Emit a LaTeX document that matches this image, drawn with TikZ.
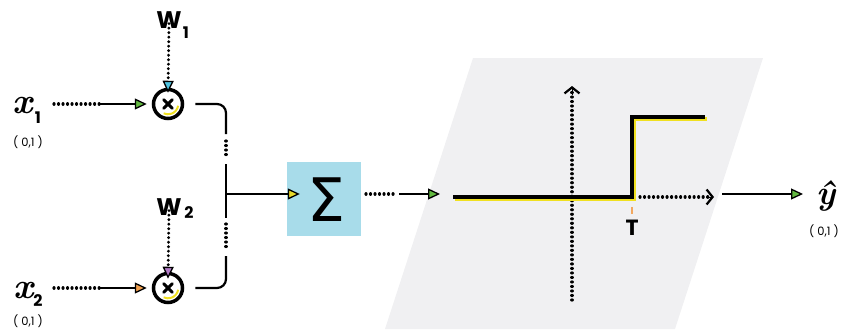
\documentclass[tikz,border=0pt]{standalone}
\usepackage{fontspec}
\newfontfamily\pop{Poppins}
\newfontfamily\djv{DejaVu Sans}
\newfontfamily\lmr{Latin Modern Roman}
\usetikzlibrary{arrows.meta}
\definecolor{sumblue}{HTML}{A8DCEA}
\definecolor{panel}{HTML}{F0F0F2}
\definecolor{tipgreen}{HTML}{62B940}
\definecolor{tipcyan}{HTML}{4FC3E0}
\definecolor{tippurple}{HTML}{B27BC6}
\definecolor{tiporange}{HTML}{F2A04E}
\definecolor{tipyellow}{HTML}{E6D82A}
\definecolor{stepyellow}{HTML}{F0E020}
\definecolor{tickorange}{HTML}{F2A860}
\tikzset{
  dotline/.style={line width=3.2pt, line cap=round, dash pattern=on 0.01pt off 4.5pt},
  wire/.style={line width=2.2pt},
  tipc/.style={-{Triangle[length=12pt,width=11pt,fill=#1,line width=1.3pt]}},
  chev/.style={-{Straight Barb[length=6pt,width=15pt,line width=2.2pt]}},
  mult/.style={circle, draw, line width=3.5pt, minimum size=29pt, inner sep=0pt},
  xlab/.style={inner sep=0pt, font=\lmr\bfseries\itshape\fontsize{36}{36}\selectfont},
  sublab/.style={inner sep=0pt, font=\pop\bfseries\fontsize{16}{16}\selectfont},
  wlab/.style={inner sep=0pt, font=\pop\bfseries\fontsize{24}{24}\selectfont},
  rangelab/.style={inner sep=0pt, font=\pop\fontsize{11.5}{11.5}\selectfont},
}
\begin{document}
\begin{tikzpicture}[x=1pt, y=-1pt]
\useasboundingbox (0,0) rectangle (842,329);

% activation panel
\fill[panel] (473,58) -- (763,58) -- (675,329) -- (385,329) -- cycle;

% inputs
\node[xlab, anchor=base] (x1) at (23,113) {x};
\node[sublab] (x1s) at (38,118) {1};
\node[rangelab] (x1r) at (28,142) {( 0,1 )};
\node[xlab, anchor=base] (x2) at (24,298) {x};
\node[sublab] (x2s) at (38,301) {2};
\node[rangelab] (x2r) at (28,321) {( 0,1 )};

% weights
\node[wlab] (w1) at (169,20) {W};
\node[sublab] (w1s) at (186,33) {1};
\node[wlab] (w2) at (169,207) {W};
\node[sublab] (w2s) at (189,213) {2};

% multipliers
\node[mult] (m1) at (168,104) {};
\node[mult] (m2) at (168,288) {};
\foreach \m in {m1,m2}{
  \draw[stepyellow, line width=2pt] (\m.center) ++(10:10.3) arc[start angle=10, end angle=115, radius=10.3];
  \draw[line width=3pt, line cap=round] (\m.center) ++(-4.3,-4.3) -- ++(8.6,8.6);
  \draw[line width=3pt, line cap=round] (\m.center) ++(-4.3,4.3) -- ++(8.6,-8.6);
}

% input arrows
\coordinate (a1) at (54,104);
\coordinate (b1) at (100,104);
\coordinate (a2) at (54,288);
\coordinate (b2) at (100,288);
\draw[dotline] (a1) -- (b1);
\draw[wire, tipc=tipgreen] (b1) -- ([xshift=-5pt]m1.west);
\draw[dotline] (a2) -- (b2);
\draw[wire, tipc=tiporange] (b2) -- ([xshift=-5pt]m2.west);

% weight arrows
\draw[dotline, tipc=tipcyan] ([yshift=5pt]w1.south) -- ([yshift=-5pt]m1.north);
\draw[dotline, tipc=tippurple] ([yshift=5pt]w2.south) -- ([yshift=-7pt]m2.north);

% summing wires
\coordinate (jn) at (226,194);
\draw[wire, rounded corners=9pt] ([xshift=11pt]m1.east) -| (226,134);
\draw[dotline] (226,141) -- (226,158);
\draw[wire] (226,164) -- (226,218);
\draw[dotline] (226,224) -- (226,250);
\draw[wire, rounded corners=9pt] (226,256) |- ([xshift=11pt]m2.east);

% summation
\node[fill=sumblue, minimum width=74pt, minimum height=74pt, inner sep=0pt] (sum) at (324,199) {};
\node[inner sep=0pt, font=\djv\fontsize{60}{60}\selectfont] (sig) at (326,200) {Σ};
\draw[wire, tipc=tipyellow] (jn) -- ([xshift=13pt]sum.west |- jn);

% into the step function
\coordinate (s1) at (366,194);
\coordinate (s2) at (396,194);
\coordinate (s3) at (399,194);
\coordinate (s4) at (440,194);
\draw[dotline] (s1) -- (s2);
\draw[wire, tipc=tipgreen] (s3) -- (s4);

% axes
\coordinate (yb) at (572,300);
\coordinate (yt) at (572,86);
\coordinate (xb) at (640,197);
\coordinate (xt) at (714,197);
\draw[dotline] (yb) -- (572,92);
\draw[chev] (572,95) -- (yt);
\draw[dotline] (xb) -- (708,197);
\draw[chev] (706,197) -- (xt);

% step function
\draw[stepyellow, line width=4.2pt] (455,199) -- (634,199) -- (634,119) -- (707,119);
\draw[line width=4.2pt] (453,197) -- (632,197) -- (632,117) -- (705,117);

% threshold
\draw[tickorange, line width=1.3pt] (632,207) -- (632,214);
\node[inner sep=0pt, font=\pop\bfseries\fontsize{22}{22}\selectfont] (thr) at (632,228) {T};

% output
\coordinate (o1) at (722,194);
\node[inner sep=0pt, anchor=base, font=\lmr\bfseries\itshape\fontsize{34}{34}\selectfont] (yh) at (826,204) {ŷ};
\node[rangelab] (yr) at (824,231) {( 0,1 )};
\draw[wire, tipc=tipgreen] (o1) -- (803,194);
\end{tikzpicture}
\end{document}
